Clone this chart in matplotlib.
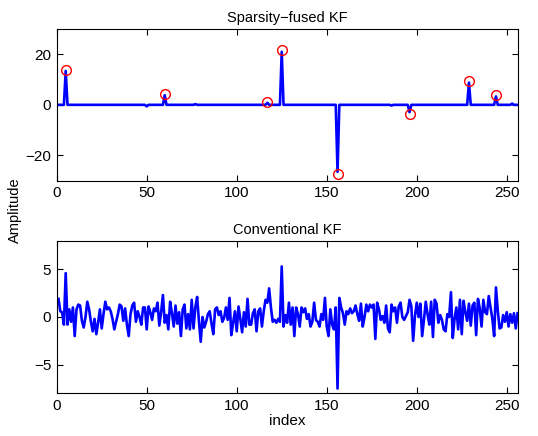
import numpy as np
import matplotlib
matplotlib.use("Agg")
import matplotlib.pyplot as plt

plt.rcParams['font.family'] = ['Liberation Sans', 'DejaVu Sans']

N = 256
# true sparse signal (red circles)
true_idx = [5, 60, 117, 125, 156, 196, 229, 244]
true_val = [13.8, 4.1, 1.3, 21.5, -27.3, -3.7, 9.4, 3.7]
# sparsity-fused KF estimate (non-zero entries)
est_idx = [5, 50, 60, 77, 117, 125, 156, 186, 196, 229, 244, 253]
est_val = [13.4, -0.6, 3.8, 0.3, 0.8, 21.0, -26.5, -0.3, -2.9, 8.8, 3.3, 0.5]

# conventional KF estimate
conv_val = [
    1.9, 0.6, 0.5, -0.8, 4.6, -0.8, 0.8, -0.5, 1.0, -2.0,
    0.8, 1.3, 1.2, -0.4, -1.1, 0.0, 1.6, 0.8, -0.5, -1.5,
    -0.2, -1.8, -0.6, 0.8, -1.2, 0.3, 1.6, 0.8, 1.0, 0.6,
    -0.2, -1.3, -0.5, 0.3, 1.3, 1.1, -0.4, 0.9, -0.8, -2.0,
    0.3, 1.2, 1.5,
    -0.5, 0.6, 0.0, -0.8, 1.0, 1.0, -1.3, 1.1, 0.5, -0.3,
    0.9, 0.6, 1.5, -0.9, 0.5, 2.3, -0.6, 0.2, -1.3, 1.6,
    0.4, -1.0, 1.2, -0.7, 0.5, -2.0, 0.8, 1.3, -1.2, 0.3,
    -1.3, 1.8, -1.2, 1.0, 2.1, -0.4, -2.6, 0.0, -1.1, -0.5,
    0.3, 0.6,
    -0.7, -1.8, 0.8, 1.0, 0.2, 0.6, -0.5, -0.1, 1.0, -0.3,
    2.0, -1.9, -0.6, 0.6, -1.5, 1.1, -0.2, -1.6, 0.5, -1.0,
    1.9, -0.8, -0.8, 0.4, 0.8, -1.5, 0.6, 0.9, -1.0, 0.6,
    1.8, 1.5, 3.0, 1.0, -0.5, -0.3, -0.6, -0.2, -0.5,
    5.3, -1.0, 0.2, -0.6, 1.5, -0.8, 1.0, -2.0, 1.0, 0.3,
    -1.0, 1.0, 0.5, 0.9, -0.2, 0.3, -1.0, -0.5, 1.5, -0.3,
    -0.5, -1.0, 0.3, -0.3, 2.0, -1.0, -2.0, 0.8, -0.8, -1.3,
    1.0, -7.5, 2.0, 1.0, 0.4, -0.8, 0.6, 0.3, 0.9, 0.4,
    0.6, 1.2, 0.3, -0.4,
    1.4, -1.0, 0.0, 1.3, 0.6, 1.3, 1.0, 1.3, -2.3, 1.5,
    0.8, -0.3, 0.1, -0.6, 1.2, -1.2, -1.6, 1.3, 0.6, 1.0,
    -0.6, 1.1, 1.5, 0.0, -0.3, 0.1, 0.5, 1.8, 1.1, -2.5,
    0.1, 1.5, 0.0, 1.4, -2.0, -0.3, 1.6, 0.3, -0.8, 1.6,
    -2.1, 1.8,
    1.4, -0.6, 0.2, -0.3, -1.3, -1.5, 0.3, 0.0, 2.6, -2.2,
    -0.2, 1.0, -1.3, 1.8, -1.8, 1.7, 0.5, -0.4, 1.4, -0.9,
    1.2, 1.5, -1.9, 1.9, 0.9, -1.0, 1.8, 0.5, 0.3, 2.2,
    1.0, -0.2, -2.0,
    3.1, 0.7, -1.2, -1.1, 0.2, -0.5, 0.5, -1.0, 0.3, -0.6,
    0.4, -1.2, 0.4,
]

x_ticks = [0, 50, 100, 150, 200, 250]
top_yticks = [-20, 0, 20]
bot_yticks = [-5, 0, 5]

est = np.zeros(N)
est[np.array(est_idx) - 1] = est_val
x = np.arange(1, N + 1)
conv = np.array(conv_val)
xc = np.arange(1, len(conv) + 1)

fig = plt.figure(figsize=(5.38, 4.36), dpi=100)
ax1 = fig.add_axes([0.1054, 0.5856, 0.8566, 0.3479])
ax2 = fig.add_axes([0.1054, 0.0979, 0.8566, 0.3501])

ax1.plot(x, est, color=(0, 0, 1), lw=1.9)
ax1.plot(true_idx, true_val, 'o', mfc='none', mec=(1, 0, 0), ms=7, mew=1.0)
ax1.set_xlim(0, 256)
ax1.set_ylim(-30, 30)
ax1.set_yticks(top_yticks)
ax1.set_xticks(x_ticks)
ax1.set_title('Sparsity\u2212fused KF', fontsize=10.5, pad=5)

ax2.plot(xc, conv, color=(0, 0, 1), lw=1.9)
ax2.set_xlim(0, 256)
ax2.set_ylim(-8, 8)
ax2.set_yticks(bot_yticks)
ax2.set_xticks(x_ticks)
ax2.set_title('Conventional KF', fontsize=10.5, pad=5)
ax2.set_xlabel('index', fontsize=11, labelpad=1)

for ax in (ax1, ax2):
    ax.tick_params(direction='in', length=4, width=0.8, labelsize=11,
                   top=True, right=True, pad=4)
    for s in ax.spines.values():
        s.set_linewidth(0.8)

fig.text(0.028, 0.517, 'Amplitude', rotation=90, ha='center', va='center',
         fontsize=10.5)

fig.savefig('out.png', dpi=100)
